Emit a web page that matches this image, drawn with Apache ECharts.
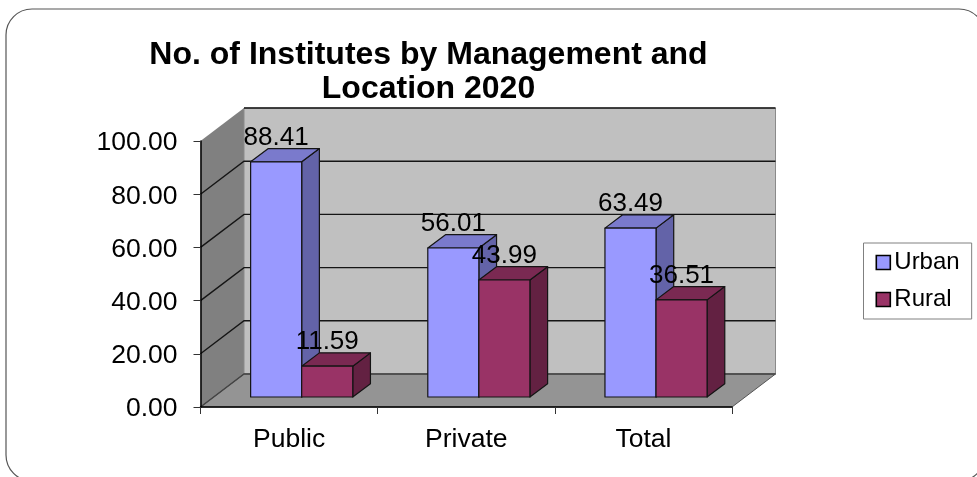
<!DOCTYPE html>
<html>
<head>
<meta charset="utf-8">
<style>html,body{margin:0;padding:0;background:#fff}#c{width:977px;height:477px}</style>
<script src="https://cdn.jsdelivr.net/npm/echarts@6/dist/echarts.min.js"></script>
</head>
<body>
<div id="c"></div>
<script>
const categories = ['Public', 'Private', 'Total'];
const urban = [88.41, 56.01, 63.49];
const rural = [11.59, 43.99, 36.51];
const yTicks = [0, 20, 40, 60, 80, 100];
const seriesNames = ['Urban', 'Rural'];

const FONT = '"Liberation Sans", Arial, sans-serif';
const WALL_DX = 43.5, WALL_DY = 33;
const BAR_DX = 17.7, BAR_DY = 13.3;
const SEAT_DX = 12.6, SEAT_DY = 10;
const BAR_RATIO = 1 / 3.47;
const LABEL_SIZE = 26;

const palette = [
  { front: '#9999FF', top: '#7A7ACC', side: '#6363A8' },
  { front: '#993366', top: '#7A2952', side: '#632142' }
];

function renderWalls(params, api) {
  const r = params.coordSys;
  const l = r.x, t = r.y, b = r.y + r.height, w = r.width;
  const poly = (pts, fill, stroke, lw) => ({
    type: 'polygon', shape: { points: pts },
    style: { fill: fill, stroke: stroke || 'none', lineWidth: lw || 0 }
  });
  return {
    type: 'group',
    children: [
      poly([[l, b], [l, t], [l + WALL_DX, t - WALL_DY], [l + WALL_DX, b - WALL_DY]], '#808080'),
      poly([[l + WALL_DX, b - WALL_DY], [l + WALL_DX, t - WALL_DY], [l + WALL_DX + w, t - WALL_DY], [l + WALL_DX + w, b - WALL_DY]], '#C0C0C0', '#8a8a8a', 1),
      poly([[l, b], [l + WALL_DX, b - WALL_DY], [l + WALL_DX + w, b - WALL_DY], [l + w, b]], '#949494', '#555', 1)
    ]
  };
}

function renderGridLine(params, api) {
  const r = params.coordSys;
  const v = api.value(0);
  const y = api.coord([0, v])[1];
  const l = r.x;
  const back = [[l + WALL_DX, y - WALL_DY], [l + WALL_DX + r.width, y - WALL_DY]];
  const atTop = v === yTicks[yTicks.length - 1];
  return {
    type: 'polyline',
    shape: { points: atTop ? back : [[l, y]].concat(back) },
    style: { fill: 'none', stroke: v === 0 ? '#444' : '#151515', lineWidth: 1.4 }
  };
}

function makeBarRenderer(idx) {
  const c = palette[idx];
  return function (params, api) {
    const band = api.size([1, 0])[0];
    const bw = band * BAR_RATIO;
    const cat = api.value(0), val = api.value(1);
    const base = api.coord([cat, 0]);
    const head = api.coord([cat, val]);
    const x0 = base[0] + SEAT_DX + (idx === 0 ? -bw : 0);
    const x1 = x0 + bw;
    const yb = base[1] - SEAT_DY;
    const yt = head[1] - SEAT_DY;
    const st = (fill) => ({ fill: fill, stroke: '#141414', lineWidth: 1.2, lineJoin: 'round' });
    return {
      type: 'group',
      children: [
        { type: 'polygon', shape: { points: [[x1, yb], [x1, yt], [x1 + BAR_DX, yt - BAR_DY], [x1 + BAR_DX, yb - BAR_DY]] }, style: st(c.side) },
        { type: 'polygon', shape: { points: [[x0, yt], [x0 + BAR_DX, yt - BAR_DY], [x1 + BAR_DX, yt - BAR_DY], [x1, yt]] }, style: st(c.top) },
        { type: 'polygon', shape: { points: [[x0, yb], [x0, yt], [x1, yt], [x1, yb]] }, style: st(c.front) },
        { type: 'text', z2: 100, style: {
            x: (x0 + x1) / 2, y: yt - BAR_DY + 2,
            text: val.toFixed(2), fill: '#000',
            font: LABEL_SIZE + 'px ' + FONT, align: 'center', verticalAlign: 'bottom'
        } }
      ]
    };
  };
}

const option = {
  animation: false,
  backgroundColor: '#fff',
  textStyle: { fontFamily: FONT },
  graphic: [{
    type: 'rect', silent: true, z: -1,
    shape: { x: 6, y: 9, width: 979, height: 472, r: 26 },
    style: { fill: '#fff', stroke: '#555', lineWidth: 1.2 }
  }],
  title: {
    text: 'No. of Institutes by Management and\nLocation 2020',
    left: 423.5, top: 33, textAlign: 'center',
    textStyle: { fontFamily: FONT, fontSize: 32, fontWeight: 'bold', color: '#000', lineHeight: 34 }
  },
  legend: {
    orient: 'vertical', left: 863.5, top: 243,
    data: seriesNames, icon: 'rect',
    itemWidth: 14, itemHeight: 14, itemGap: 13,
    padding: [7.5, 12, 7.5, 12],
    borderColor: '#808080', borderWidth: 1, backgroundColor: '#fff',
    selectedMode: false,
    textStyle: { fontFamily: FONT, fontSize: 24, color: '#000', padding: [1, 0, 0, -1] },
    itemStyle: { borderColor: '#000', borderWidth: 1.6 }
  },
  grid: { left: 200.5, top: 141, width: 531.5, height: 266, containLabel: false },
  xAxis: {
    type: 'category', data: categories, z: 10,
    axisLine: { show: true, lineStyle: { color: '#000', width: 1.5 } },
    axisTick: { show: true, length: 7, lineStyle: { color: '#333', width: 1 } },
    axisLabel: { color: '#000', fontFamily: FONT, fontSize: 26.5, margin: 19 }
  },
  yAxis: {
    type: 'value', min: 0, max: 100, interval: 20, z: 10,
    axisLine: { show: true, lineStyle: { color: '#000', width: 1.5 } },
    axisTick: { show: true, length: 7, lineStyle: { color: '#333', width: 1 } },
    splitLine: { show: false },
    axisLabel: {
      margin: 23,
      formatter: v => '{n|' + v.toFixed(2) + '}',
      rich: { n: { color: '#000', fontFamily: FONT, fontSize: 26.5, padding: [4, 0, 0, 0] } }
    }
  },
  series: [
    { type: 'custom', name: 'walls', data: [0], renderItem: renderWalls, silent: true, z: 1, encode: { x: -1, y: -1 } },
    { type: 'custom', name: 'gridlines', data: yTicks.map(v => [v]), renderItem: renderGridLine, silent: true, z: 2, encode: { x: -1, y: 0 } },
    { type: 'custom', name: seriesNames[0], data: categories.map((_, i) => [i, urban[i]]), renderItem: makeBarRenderer(0), z: 3, color: palette[0].front, itemStyle: { color: palette[0].front }, encode: { x: 0, y: 1 } },
    { type: 'custom', name: seriesNames[1], data: categories.map((_, i) => [i, rural[i]]), renderItem: makeBarRenderer(1), z: 4, color: palette[1].front, itemStyle: { color: palette[1].front }, encode: { x: 0, y: 1 } }
  ]
};
echarts.init(document.getElementById('c'), null, { renderer: 'canvas' }).setOption(option);
</script>
</body>
</html>
